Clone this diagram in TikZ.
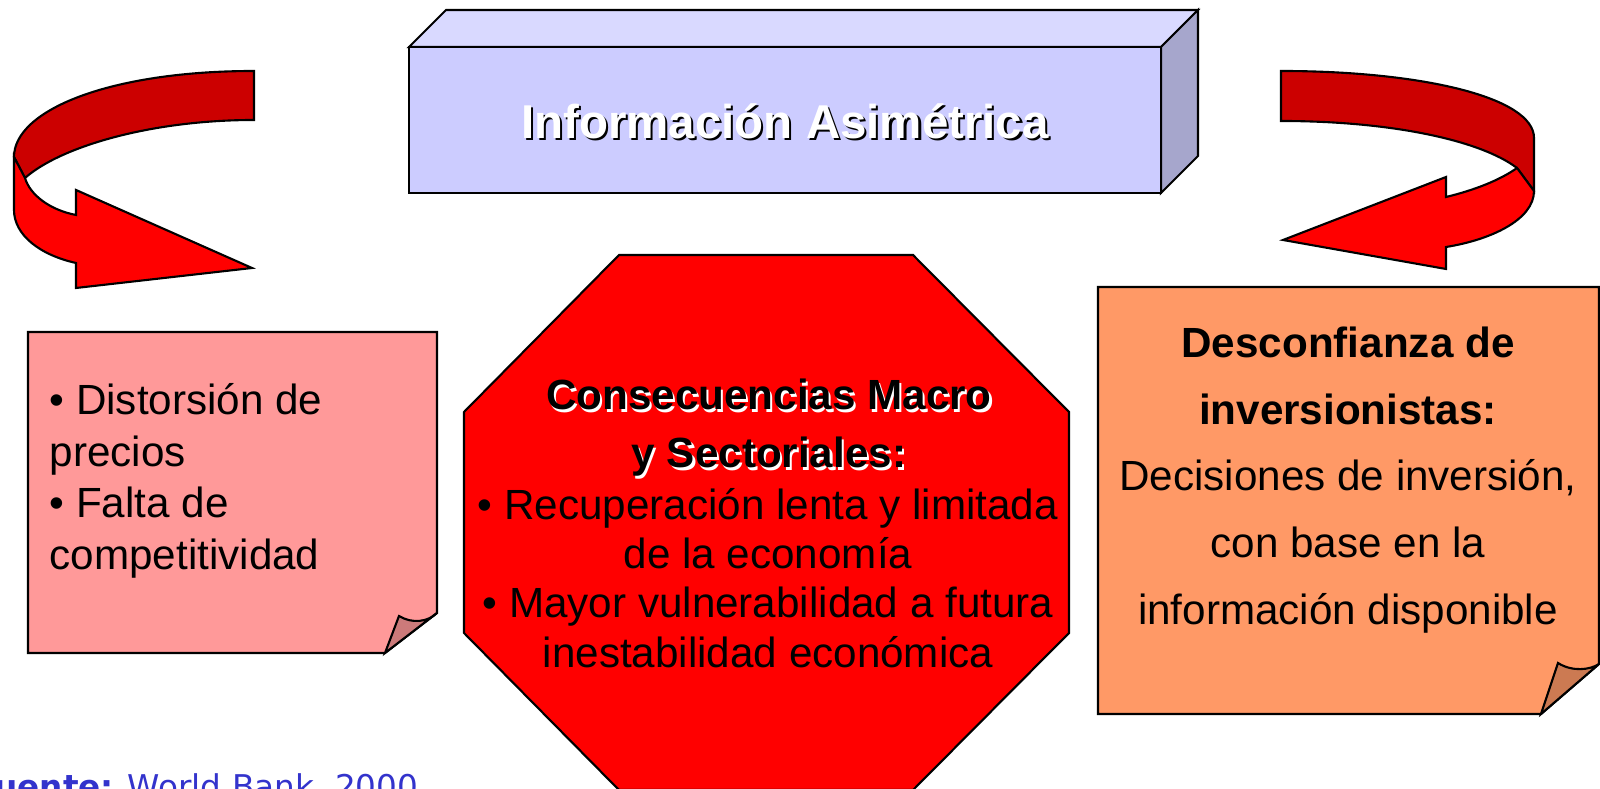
\documentclass[tikz,border=0pt]{standalone}
\usepackage{fontspec}
\setmainfont{Liberation Sans}
\newfontfamily\srcfont{DejaVu Sans}
\usepackage{tikz}

\definecolor{arrowred}{RGB}{255,0,0}
\definecolor{arrowdark}{RGB}{204,0,0}
\definecolor{boxfront}{RGB}{204,204,255}
\definecolor{boxtop}{RGB}{217,217,255}
\definecolor{boxside}{RGB}{166,166,204}
\definecolor{notepink}{RGB}{255,153,153}
\definecolor{flappink}{RGB}{204,122,122}
\definecolor{noteorange}{RGB}{255,153,102}
\definecolor{flaporange}{RGB}{204,122,82}
\definecolor{srcblue}{RGB}{51,51,204}

\begin{document}
\begin{tikzpicture}[
  x=0.01cm, y=-0.01cm,
  outline/.style={draw=black,line width=0.6pt,line join=miter},
  bandtop/.style={outline,fill=arrowdark},
  bandfront/.style={outline,fill=arrowred},
  txt/.style={inner sep=0pt,font=\fontsize{12pt}{14.4pt}\selectfont}
]
\useasboundingbox (0,0) rectangle (1600,789);

% curved arrows
\path[bandtop] (254,71) .. controls (110,71) and (14,110) .. (14,157)
  -- (25,178) .. controls (60,147) and (150,120) .. (254,120) -- cycle;
\path[bandfront] (14,157) -- (14,210) .. controls (14,235) and (40,255) .. (76,263)
  -- (76,288) -- (252,268) -- (76,190) -- (76,215)
  .. controls (50,210) and (30,195) .. (25,178) -- cycle;

\path[bandtop] (1281,71) .. controls (1420,71) and (1534,97) .. (1534,138)
  -- (1534,191) -- (1517,168) .. controls (1480,140) and (1390,121) .. (1281,121) -- cycle;
\path[bandfront] (1517,168) -- (1534,191) .. controls (1534,220) and (1490,240) .. (1446,247)
  -- (1446,269) -- (1283,240) -- (1446,177) -- (1446,197)
  .. controls (1475,190) and (1500,180) .. (1517,168) -- cycle;

% box
\path[outline,fill=boxtop] (409,47) -- (446,10) -- (1198,10) -- (1161,47) -- cycle;
\path[outline,fill=boxside] (1161,47) -- (1198,10) -- (1198,156) -- (1161,193) -- cycle;
\path[outline,fill=boxfront] (409,47) rectangle (1161,193);

\node[txt,font=\fontsize{13.5pt}{16pt}\selectfont\bfseries,text=black,xshift=0.6pt,yshift=-0.6pt] (titleshadow) at (785,121) {Información Asimétrica};
\node[txt,font=\fontsize{13.5pt}{16pt}\selectfont\bfseries,text=white] (title) at (785,121) {Información Asimétrica};

% notes
\path[outline,fill=notepink] (28,332) -- (437,332) -- (437,613) -- (385,653) -- (28,653) -- cycle;
\path[outline,fill=flappink] (385,653) -- (399,616) .. controls (412,624) and (428,622) .. (437,613) -- cycle;

\path[outline,fill=noteorange] (1098,287) -- (1599,287) -- (1599,664) -- (1541,714) -- (1098,714) -- cycle;
\path[outline,fill=flaporange] (1541,714) -- (1558,663) .. controls (1572,672) and (1590,670) .. (1599,664) -- cycle;

\node[txt,anchor=west,align=left,font=\fontsize{12pt}{14.7pt}\selectfont] (distortion) at (49,481)
  {• Distorsión de\\precios\\• Falta de\\competitividad};

\node[txt,align=center,font=\fontsize{12pt}{19pt}\selectfont] (distrust) at (1348,480)
  {\textbf{Desconfianza de}\\\textbf{inversionistas:}\\Decisiones de inversión,\\con base en la\\información disponible};

% octagon
\path[outline,fill=arrowred] (619,255) -- (913,255) -- (1069,412) -- (1069,633)
  -- (913,790) -- (619,790) -- (464,633) -- (464,412) -- cycle;

\node[txt,align=center,font=\fontsize{12pt}{16.5pt}\selectfont\bfseries,text=white,xshift=0.6pt,yshift=-0.6pt] (consshadow) at (769,428)
  {Consecuencias Macro\\y Sectoriales:};
\node[txt,align=center,font=\fontsize{12pt}{16.5pt}\selectfont\bfseries,text=black] (cons) at (769,428)
  {Consecuencias Macro\\y Sectoriales:};
\node[txt,align=center,font=\fontsize{12pt}{14pt}\selectfont] (effects) at (768,578)
  {• Recuperación lenta y limitada\\de la economía\\• Mayor vulnerabilidad a futura\\inestabilidad económica};

% source
\node[anchor=base west,inner sep=0pt,text=srcblue,font=\srcfont\fontsize{9.3pt}{11pt}\selectfont] (source) at (-27,799)
  {\textbf{Fuente:} World Bank, 2000};
\end{tikzpicture}
\end{document}
